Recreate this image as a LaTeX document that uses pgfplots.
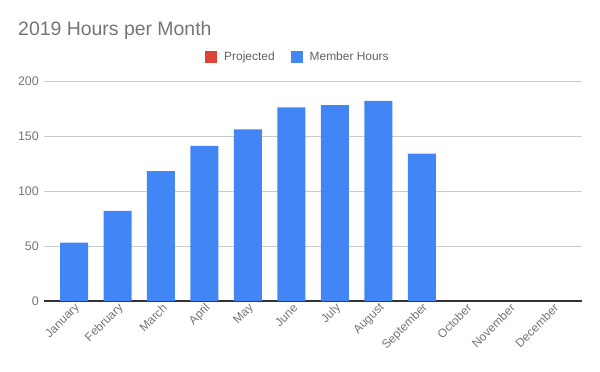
\documentclass[border=0pt]{standalone}
\usepackage{pgfplots}
\pgfplotsset{compat=1.18}
\usepackage{fontspec}
\setmainfont{Liberation Sans}
\definecolor{gblue}{HTML}{4285F4}
\definecolor{gred}{HTML}{DB4437}
\definecolor{ggray}{HTML}{757575}
\definecolor{glabel}{HTML}{616161}
\definecolor{ggrid}{HTML}{CCCCCC}
\definecolor{gaxis}{HTML}{333333}
\begin{document}
\begin{tikzpicture}[x=1bp,y=1bp]
\useasboundingbox (0,0) rectangle (600,371);
\node[anchor=base west, inner sep=0pt, text=ggray, font=\fontsize{19.5}{23}\selectfont] at (18,336) {2019 Hours per Month};
\begin{axis}[
  at={(44bp,70bp)}, anchor=south west,
  scale only axis, width=538bp, height=220bp,
  xmin=-0.69, xmax=11.68, ymin=0, ymax=200,
  axis line style={draw=none},
  major tick length=0pt,
  ytick={50,100,150,200},
  extra y ticks={0},
  extra y tick style={grid style={draw=gaxis, line width=1.2bp}},
  ymajorgrids, grid style={draw=ggrid, line width=0.8bp},
  /pgf/number format/assume math mode=true,
  yticklabel style={font=\fontsize{12.5}{14}\selectfont, text=ggray, inner sep=0pt, xshift=-5bp},
  xtick={0,...,11},
  xticklabels={January,February,March,April,May,June,July,August,September,October,November,December},
  xticklabel style={font=\fontsize{12}{14}\selectfont, text=ggray, inner sep=0pt, xshift=4bp, yshift=-5bp, rotate=45, anchor=east},
  legend style={at={(0.472,1.109)}, anchor=center, draw=none, fill=none, legend columns=2,
    font=\fontsize{12}{14}\selectfont, text=glabel,
    /tikz/every even column/.append style={column sep=14bp}},
  legend image code/.code={\fill[#1] (0bp,-6bp) rectangle (12bp,6bp); \path (17bp,0bp);},
]
\addlegendimage{fill=gred, draw=none}
\addlegendentry{Projected}
\addplot[ybar, bar width=28bp, bar shift=0pt, fill=gblue, draw=none] coordinates {
(0,53) (1,82) (2,118) (3,141) (4,156) (5,176) (6,178) (7,182) (8,134)
};
\addlegendentry{Member Hours}
\end{axis}
\end{tikzpicture}
\end{document}
